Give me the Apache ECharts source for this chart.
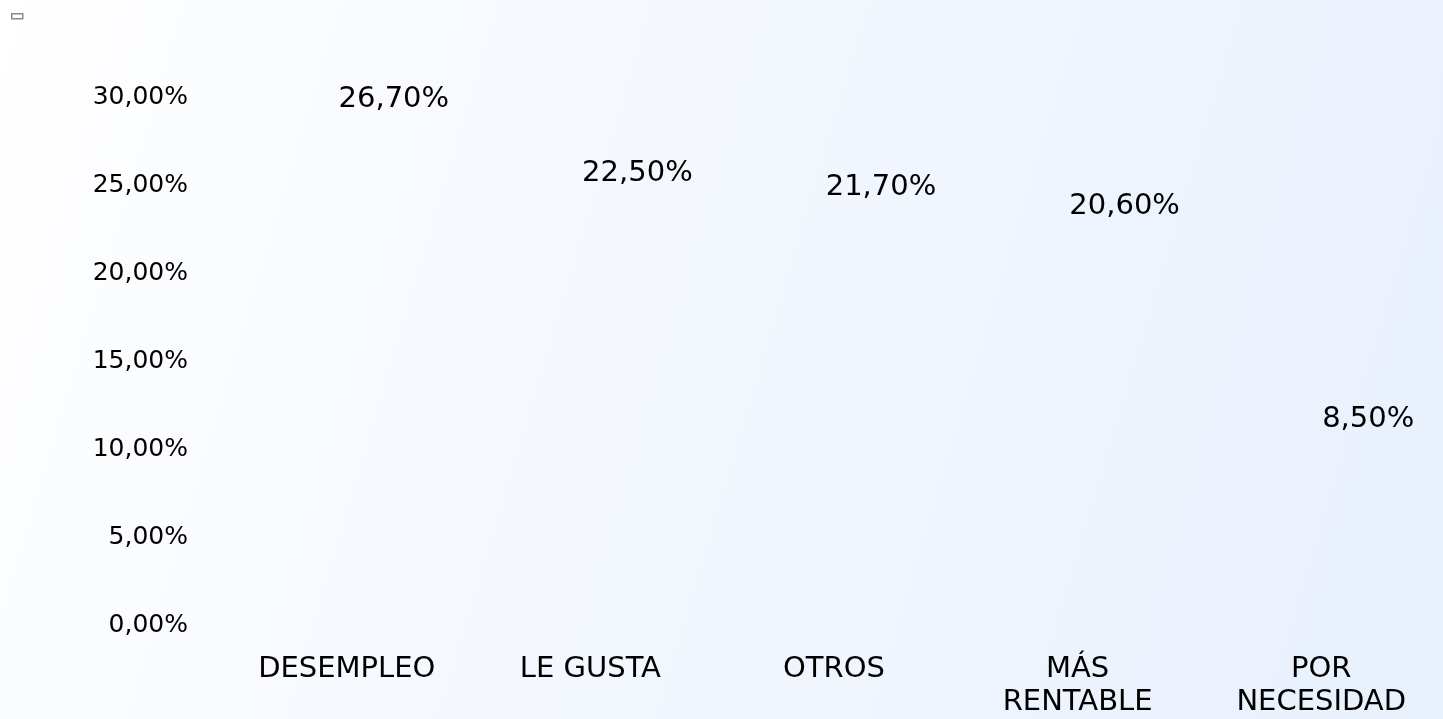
<!DOCTYPE html>
<html>
<head>
<meta charset="utf-8">
<title>Motivos</title>
<script src="https://cdn.jsdelivr.net/npm/echarts@6/dist/echarts.min.js"></script>
<style>
  html, body { margin: 0; padding: 0; width: 100%; height: 100%; overflow: hidden; }
  #chart { width: 1443px; height: 719px; }
</style>
</head>
<body>
<div id="chart"></div>
<script>
// Motivos y su porcentaje
const categories = ['DESEMPLEO', 'LE GUSTA', 'OTROS', 'MÁS\nRENTABLE', 'POR\nNECESIDAD'];
const values = [26.7, 22.5, 21.7, 20.6, 8.5];
const yTicks = { min: 0, max: 30, interval: 5 };

const fmtPct = v => v.toFixed(2).replace('.', ',') + '%';
const FONT = 'DejaVu Sans';

const chart = echarts.init(document.getElementById('chart'));
chart.setOption({
  backgroundColor: new echarts.graphic.LinearGradient(0, 0, 1, 0.6, [
    { offset: 0, color: '#ffffff' },
    { offset: 0.4, color: '#f5f8fe' },
    { offset: 1, color: '#e9f1fd' }
  ]),
  animation: false,
  legend: {
    left: 6, top: 8,
    itemWidth: 11, itemHeight: 5, itemGap: 0,
    icon: 'rect',
    itemStyle: { color: '#ffffff', borderColor: '#8a8a8a', borderWidth: 1.5 },
    textStyle: { fontSize: 1, color: 'transparent' },
    data: [' ']
  },
  grid: { left: 225, right: -32, top: 97, bottom: 82 },
  xAxis: {
    type: 'category',
    data: categories,
    axisLine: { show: false },
    axisTick: { show: false },
    axisLabel: {
      interval: 0,
      margin: 28,
      fontFamily: FONT,
      fontSize: 29,
      lineHeight: 33,
      color: '#000000'
    }
  },
  yAxis: {
    type: 'value',
    min: yTicks.min, max: yTicks.max, interval: yTicks.interval,
    splitLine: { show: false },
    axisLine: { show: false },
    axisTick: { show: false },
    axisLabel: {
      margin: 37,
      fontFamily: FONT,
      fontSize: 25,
      color: '#000000',
      formatter: v => fmtPct(v)
    }
  },
  series: [{
    name: ' ',
    type: 'bar',
    data: values,
    barWidth: '50%',
    itemStyle: { color: 'rgba(255,255,255,0)' },
    label: {
      show: true,
      position: 'top',
      offset: [47, -36],
      fontFamily: FONT,
      fontSize: 29,
      color: '#000000',
      formatter: p => fmtPct(p.value)
    }
  }]
});
</script>
</body>
</html>
